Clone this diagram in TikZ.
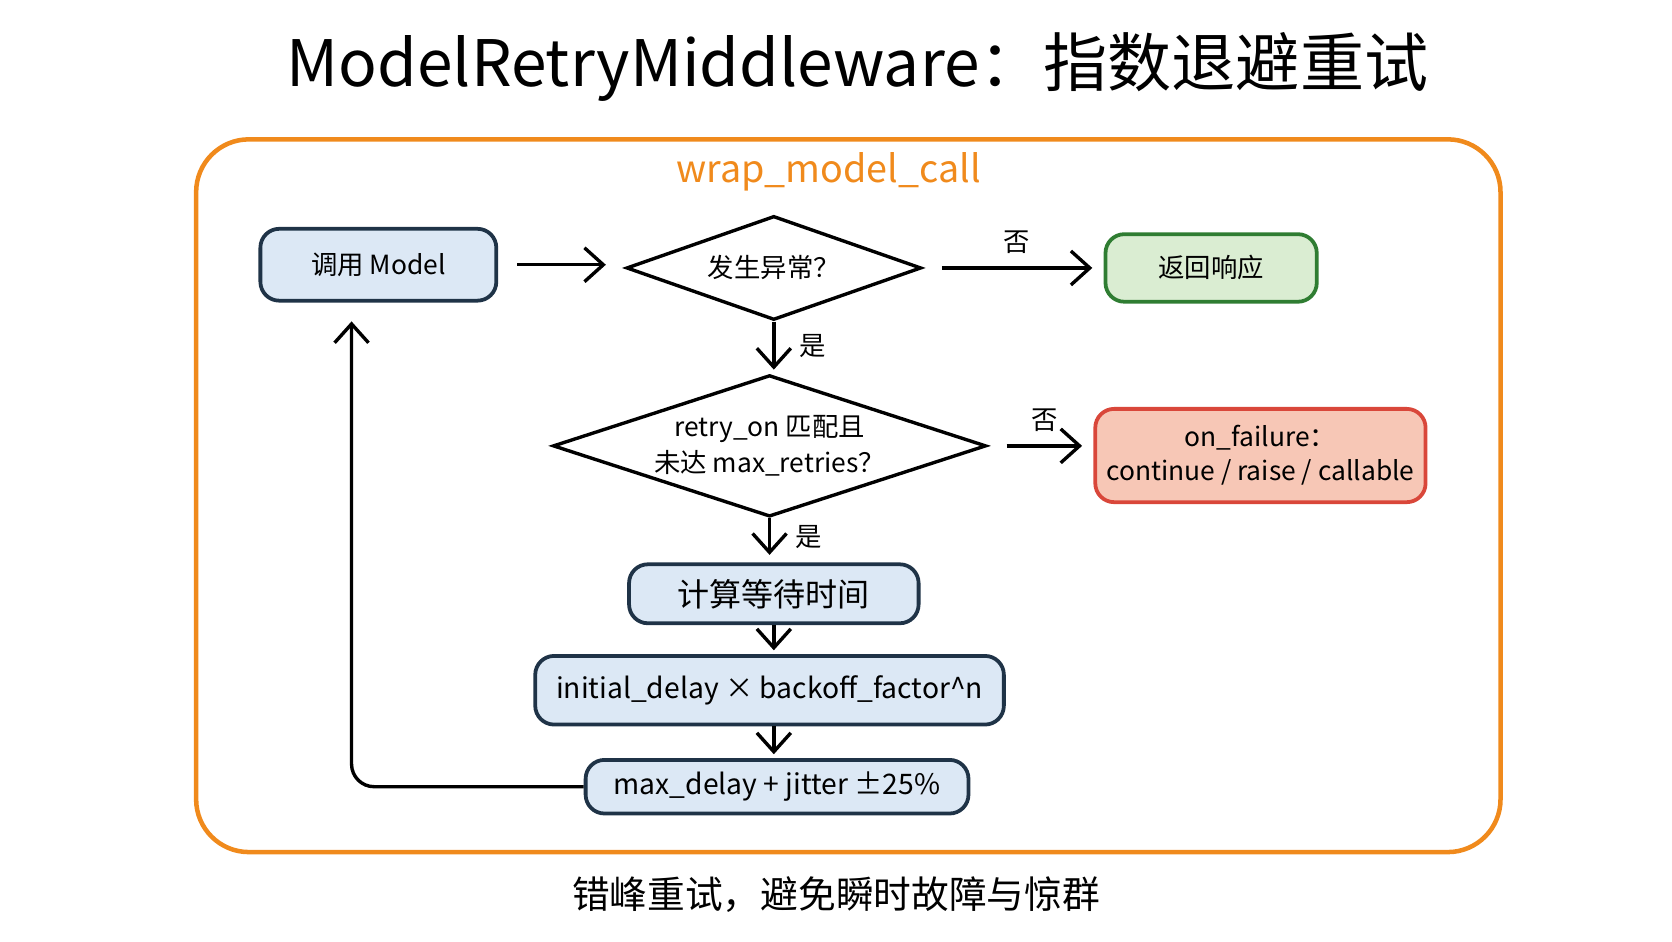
\documentclass[tikz,border=0pt]{standalone}
\usepackage{fontspec}
\setmainfont{Noto Sans CJK SC}
\usetikzlibrary{shapes.geometric, arrows.meta, positioning}
\definecolor{boxblue}{HTML}{DCE8F5}
\definecolor{boxline}{HTML}{1F3347}
\definecolor{okfill}{HTML}{DAEDD2}
\definecolor{okline}{HTML}{2F7D32}
\definecolor{badfill}{HTML}{F7C7B6}
\definecolor{badline}{HTML}{D9473A}
\definecolor{frameorange}{HTML}{F08A1C}
\tikzset{
  stage/.style={draw=boxline, line width=1pt, rounded corners=5pt, fill=boxblue, inner sep=0pt, font=\fontsize{7}{9}\selectfont},
  test/.style={draw=black, line width=0.9pt, diamond, inner sep=0pt, align=center, font=\fontsize{7}{9.5}\selectfont},
  flow/.style={-{Straight Barb[length=5pt,width=9pt]}, line width=0.9pt},
  lbl/.style={font=\fontsize{7}{9}\selectfont}
}
\begin{document}
\begin{tikzpicture}[x=0.01cm, y=-0.01cm]
    \useasboundingbox (0,0) rectangle (1560,878);
    \node[font=\fontsize{17}{20}\selectfont] (title) at (800,62) {ModelRetryMiddleware：指数退避重试};
    \draw[frameorange, line width=1.2pt, rounded corners=14pt] (183,130) rectangle (1400,795);
    \node[frameorange, font=\fontsize{10}{12}\selectfont] (wrap) at (773,160) {wrap\_model\_call};

    \node[stage, minimum width=2.2cm, minimum height=0.67cm] (call) at (353,247) {调用 Model};
    \node[test, aspect=2.83, minimum width=2.75cm, minimum height=0.97cm] (err) at (722,250) {发生异常？};
    \node[stage, draw=okline, fill=okfill, minimum width=1.97cm, minimum height=0.63cm] (resp) at (1130,250) {返回响应};
    \node[test, aspect=3.06, minimum width=4.04cm, minimum height=1.32cm] (match) at (718,416) {retry\_on 匹配且\\未达 max\_retries？};
    \node[stage, draw=badline, fill=badfill, minimum width=3.08cm, minimum height=0.87cm, align=center] (fail) at (1176,425) {on\_failure：\\continue / raise / callable};
    \node[stage, minimum width=2.7cm, minimum height=0.55cm, font=\fontsize{8.5}{10}\selectfont] (wait) at (722,554) {计算等待时间};
    \node[stage, minimum width=4.37cm, minimum height=0.64cm, font=\fontsize{7.5}{9}\selectfont] (expo) at (718,644) {initial\_delay × backoff\_factor\^{}n};
    \node[stage, minimum width=3.57cm, minimum height=0.5cm, font=\fontsize{7.5}{9}\selectfont] (cap) at (725,734) {max\_delay + jitter ±25\%};
    \node[font=\fontsize{10}{12}\selectfont] (note) at (780,835) {错峰重试，避免瞬时故障与惊群};

    \draw[flow] ([xshift=5pt]call.east) -- ([xshift=-5pt]err.west |- call.east);
    \draw[flow] ([xshift=5pt]err.east) -- node[lbl, above] {否} ([xshift=-3pt]resp.west);
    \draw[flow] (err.south) -- node[lbl, right=3pt] {是} ([yshift=1pt]match.north -| err.south);
    \draw[flow] ([xshift=5pt]match.east) -- node[lbl, above] {否} ([xshift=-3pt]fail.west |- match.east);
    \draw[flow] (match.south) -- node[lbl, right=3pt] {是} ([yshift=2pt]wait.north -| match.south);
    \draw[flow] (wait.south) -- ([yshift=1pt]expo.north -| wait.south);
    \draw[flow] (expo.south -| wait.south) -- ([yshift=1pt]cap.north -| wait.south);
    \coordinate (turn) at (328,734);
    \draw[flow, rounded corners=6pt] (cap.west) -- (turn) -- ([yshift=-5pt]call.south -| turn);
\end{tikzpicture}
\end{document}
